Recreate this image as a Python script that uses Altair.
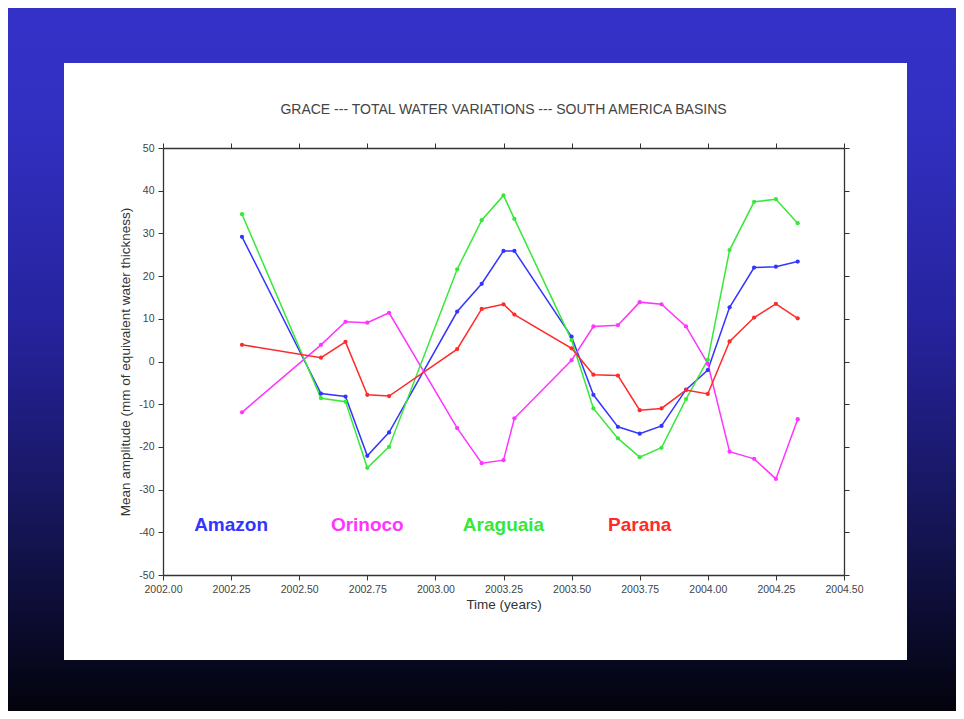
import altair as alt
import pandas as pd

# ---------------- data ----------------
times = [2002.29, 2002.58, 2002.67, 2002.75, 2002.83, 2003.08, 2003.17, 2003.25,
         2003.29, 2003.50, 2003.58, 2003.67, 2003.75, 2003.83, 2003.92, 2004.00,
         2004.08, 2004.17, 2004.25, 2004.33]
amazon = [29.2, -7.5, -8.2, -22.1, -16.6, 11.7, 18.2, 25.9, 25.9, 5.8,
          -7.8, -15.3, -16.9, -15.1, -6.6, -2.0, 12.7, 22.0, 22.2, 23.4]
orinoco = [-11.9, 3.9, 9.3, 9.1, 11.4, -15.6, -23.8, -23.1, -13.3, 0.3,
           8.2, 8.5, 13.9, 13.4, 8.2, -0.5, -21.1, -22.8, -27.5, -13.5]
araguaia = [34.5, -8.6, -9.4, -24.9, -20.0, 21.6, 33.1, 38.9, 33.4, 5.0,
            -11.0, -18.0, -22.4, -20.2, -8.8, 0.4, 26.1, 37.4, 38.0, 32.4]
parana = [3.9, 0.9, 4.6, -7.8, -8.1, 2.9, 12.3, 13.4, 11.0, 3.1,
          -3.1, -3.3, -11.4, -11.0, -6.7, -7.6, 4.7, 10.3, 13.5, 10.1]

basins = ["Amazon", "Orinoco", "Araguaia", "Parana"]
colors = ["#3434ff", "#ff35ff", "#38e838", "#ff2a2a"]
label_x = [2002.25, 2002.75, 2003.25, 2003.75]
label_y = [-38.3, -38.3, -38.3, -38.3]

x_ticks = [2002.0, 2002.25, 2002.5, 2002.75, 2003.0, 2003.25, 2003.5, 2003.75,
           2004.0, 2004.25, 2004.5]
y_ticks = [-50, -40, -30, -20, -10, 0, 10, 20, 30, 40, 50]

title_text = ["GRACE --- TOTAL WATER VARIATIONS --- SOUTH AMERICA BASINS"]

series = {"Amazon": amazon, "Orinoco": orinoco, "Araguaia": araguaia, "Parana": parana}
rows = []
for name in basins:
    for t, v in zip(times, series[name]):
        rows.append({"time": t, "value": v, "basin": name})
df = pd.DataFrame(rows)
labels_df = pd.DataFrame({"basin": basins, "time": label_x, "value": label_y})

W, H = 681, 427
PAD = {"left": 155, "top": 140, "right": 112, "bottom": 136}
FONT = "Liberation Sans"

xscale = alt.Scale(domain=[2002.0, 2004.5], nice=False, zero=False)
yscale = alt.Scale(domain=[-50, 50], nice=False, zero=False)
cscale = alt.Scale(domain=basins, range=colors)

one = pd.DataFrame({"k": [0]})

# background gradient (slide)
bg = alt.Chart(one).mark_rect(
    color=alt.Gradient(
        gradient="linear", x1=0, x2=0, y1=0, y2=1,
        stops=[alt.GradientStop(color="#3431c8", offset=0),
               alt.GradientStop(color="#3230c2", offset=0.15),
               alt.GradientStop(color="#26239e", offset=0.45),
               alt.GradientStop(color="#141452", offset=0.75),
               alt.GradientStop(color="#03030c", offset=1)]),
).encode(
    x=alt.value(-PAD["left"]), x2=alt.value(W + PAD["right"]),
    y=alt.value(-PAD["top"]), y2=alt.value(H + PAD["bottom"]),
)

# white panel
panel = alt.Chart(one).mark_rect(color="white").encode(
    x=alt.value(-99), x2=alt.value(744), y=alt.value(-85), y2=alt.value(512)
)

title = alt.Chart(pd.DataFrame({"t": title_text})).mark_text(
    font=FONT, fontSize=14, color="#444444", align="center", baseline="middle"
).encode(x=alt.value(W / 2), y=alt.value(-38), text="t:N")

axis_common = dict(domainColor="#333333", domainWidth=1.3, tickColor="#333333",
                   tickSize=5, tickWidth=1, grid=False, labelFont=FONT,
                   labelColor="#444444", labelFontSize=10.5, titleFont=FONT,
                   titleColor="#333333", titleFontWeight="normal", labelFlush=False,
                   zindex=2)

lines = alt.Chart(df).mark_line(
    strokeWidth=1.5,
    point=alt.OverlayMarkDef(size=18, filled=True),
).encode(
    x=alt.X("time:Q", scale=xscale,
            axis=alt.Axis(orient="bottom", values=x_ticks, format=".2f",
                          title="Time (years)", titleFontSize=13.5, titlePadding=3,
                          labelPadding=4, **axis_common)),
    y=alt.Y("value:Q", scale=yscale,
            axis=alt.Axis(orient="left", values=y_ticks, format="d",
                          labelExpr="replace(datum.label, '\u2212', '-')",
                          title="Mean amplitude (mm of equivalent water thickness)",
                          titleFontSize=13.5, titlePadding=6, labelPadding=4,
                          **axis_common)),
    color=alt.Color("basin:N", scale=cscale, legend=None),
    detail="basin:N",
)

texts = alt.Chart(labels_df).mark_text(
    font="Liberation Sans", fontWeight="bold", fontSize=19, align="center",
    baseline="middle",
).encode(
    x=alt.X("time:Q", scale=xscale,
            axis=alt.Axis(orient="top", values=x_ticks, labels=False, title=None,
                          **axis_common)),
    y=alt.Y("value:Q", scale=yscale,
            axis=alt.Axis(orient="right", values=y_ticks, labels=False, title=None,
                          **axis_common)),
    text="basin:N",
    color=alt.Color("basin:N", scale=cscale, legend=None),
)

chart = alt.layer(bg, panel, title, lines, texts).resolve_axis(
    x="independent", y="independent"
).properties(
    width=W, height=H,
    padding=PAD,
    autosize=alt.AutoSizeParams(type="none"),
).configure_view(stroke=None)

chart.save("out.html", embed_options={"renderer": "svg", "actions": False})
